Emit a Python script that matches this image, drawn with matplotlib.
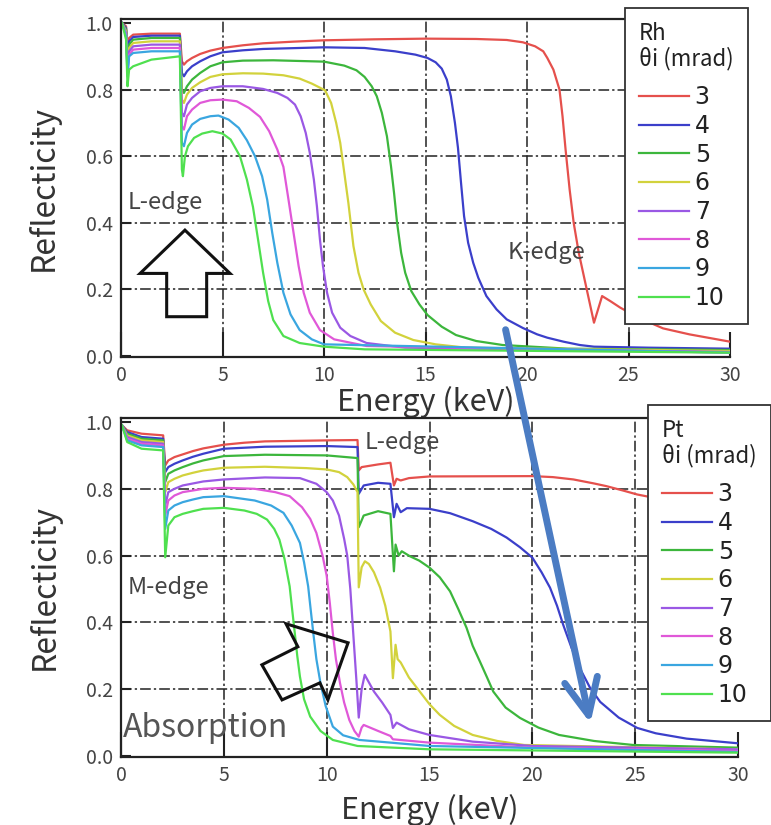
import matplotlib
matplotlib.use("Agg")
import matplotlib.pyplot as plt
from matplotlib.patches import Polygon, FancyArrowPatch

plt.rcParams['font.family'] = ['Noto Sans CJK JP', 'DejaVu Sans']

# incidence angles (mrad) and line colours
angles = ['3', '4', '5', '6', '7', '8', '9', '10']
colors = ['#e5504c', '#3b3fca', '#3cb63c', '#d2d23c',
          '#9a58e4', '#e058d8', '#3aa6e0', '#4fe04f']

# ---- Rh mirror: energy (keV) / reflectivity ----
rh_e3 = [0.05, 0.25, 0.32, 0.4, 0.6, 1.5, 2.9, 3.0, 3.1, 3.25, 3.5, 3.9, 4.4, 5.0, 6.0, 7.0, 8.5,
         10.0, 12.5, 15.0, 17.5, 19.0, 19.8, 20.4, 20.8, 21.0, 21.3, 21.6, 21.75, 21.9, 22.1, 22.3,
         22.55, 22.8, 23.05, 23.3, 23.7, 24.1, 24.6, 25.5, 26.7, 28.0, 30.0]
rh_r3 = [1.0, 0.99, 0.93, 0.955, 0.965, 0.968, 0.968, 0.885, 0.875, 0.885, 0.895, 0.907, 0.917,
         0.925, 0.933, 0.939, 0.944, 0.948, 0.951, 0.953, 0.952, 0.949, 0.942, 0.93, 0.915, 0.895,
         0.86, 0.80, 0.72, 0.62, 0.50, 0.40, 0.31, 0.24, 0.17, 0.10, 0.18, 0.165, 0.145, 0.115,
         0.083, 0.065, 0.043]

rh_e4 = [0.05, 0.25, 0.32, 0.4, 0.6, 1.5, 2.9, 3.0, 3.1, 3.25, 3.5, 3.9, 4.4, 5.0, 6.0, 7.0, 10.0,
         12.0, 13.5, 14.5, 15.1, 15.5, 15.8, 16.05, 16.25, 16.45, 16.6, 16.75, 16.9, 17.1, 17.35,
         17.6, 18.0, 18.5, 19.0, 19.8, 20.5, 21.0, 21.8, 22.6, 23.3, 26.0, 30.0]
rh_r4 = [1.0, 0.985, 0.91, 0.945, 0.958, 0.962, 0.962, 0.85, 0.84, 0.855, 0.87, 0.885, 0.90, 0.912,
         0.918, 0.922, 0.927, 0.925, 0.915, 0.905, 0.895, 0.882, 0.863, 0.83, 0.78, 0.70, 0.625,
         0.52, 0.42, 0.34, 0.28, 0.235, 0.18, 0.14, 0.11, 0.084, 0.065, 0.055, 0.043, 0.033, 0.028,
         0.025, 0.022]

rh_e5 = [0.05, 0.25, 0.32, 0.4, 0.6, 1.5, 2.9, 3.0, 3.1, 3.25, 3.5, 3.9, 4.4, 5.0, 6.0, 7.5, 10.0,
         11.0, 11.6, 12.0, 12.35, 12.6, 12.85, 13.1, 13.3, 13.45, 13.6, 13.8, 14.0, 14.3, 14.7,
         15.1, 15.8, 16.5, 17.5, 18.8, 22.0, 30.0]
rh_r5 = [1.0, 0.98, 0.89, 0.935, 0.95, 0.955, 0.955, 0.80, 0.79, 0.81, 0.83, 0.85, 0.87, 0.882,
         0.887, 0.888, 0.884, 0.872, 0.858, 0.838, 0.81, 0.78, 0.73, 0.66, 0.57, 0.49, 0.40, 0.31,
         0.25, 0.195, 0.155, 0.123, 0.088, 0.063, 0.045, 0.033, 0.022, 0.018]

rh_e6 = [0.05, 0.25, 0.32, 0.4, 0.6, 1.5, 2.9, 3.0, 3.1, 3.25, 3.5, 3.9, 4.4, 5.0, 6.0, 7.0, 8.0,
         8.8, 9.4, 10.05, 10.35, 10.6, 10.8, 11.0, 11.2, 11.45, 11.7, 11.95, 12.3, 12.8, 13.5, 14.4,
         15.5, 17.0, 30.0]
rh_r6 = [1.0, 0.975, 0.87, 0.925, 0.94, 0.945, 0.945, 0.77, 0.76, 0.785, 0.805, 0.822, 0.838,
         0.846, 0.849, 0.848, 0.843, 0.833, 0.818, 0.798, 0.76, 0.70, 0.64, 0.55, 0.46, 0.33, 0.25,
         0.20, 0.155, 0.105, 0.07, 0.048, 0.035, 0.025, 0.015]

rh_e7 = [0.05, 0.25, 0.32, 0.4, 0.6, 1.5, 2.9, 3.0, 3.1, 3.25, 3.5, 3.9, 4.4, 5.0, 6.0, 7.0, 7.7,
         8.2, 8.57, 8.85, 9.1, 9.3, 9.5, 9.65, 9.8, 9.95, 10.15, 10.4, 10.8, 11.3, 12.1, 14.0, 30.0]
rh_r7 = [1.0, 0.97, 0.86, 0.915, 0.93, 0.935, 0.935, 0.73, 0.72, 0.755, 0.775, 0.795, 0.805, 0.81,
         0.81, 0.802, 0.79, 0.775, 0.755, 0.72, 0.67, 0.61, 0.53, 0.45, 0.35, 0.27, 0.19, 0.13,
         0.085, 0.06, 0.039, 0.025, 0.012]

rh_e8 = [0.05, 0.25, 0.32, 0.4, 0.6, 1.5, 2.9, 3.0, 3.1, 3.25, 3.5, 3.9, 4.4, 5.0, 5.7, 6.3, 6.85,
         7.3, 7.7, 8.0, 8.25, 8.5, 8.75, 9.0, 9.3, 9.8, 10.5, 12.1, 30.0]
rh_r8 = [1.0, 0.965, 0.85, 0.905, 0.92, 0.925, 0.925, 0.69, 0.68, 0.72, 0.74, 0.76, 0.768, 0.77,
         0.765, 0.745, 0.718, 0.675, 0.62, 0.568, 0.47, 0.37, 0.27, 0.19, 0.13, 0.078, 0.05, 0.03,
         0.01]

rh_e9 = [0.05, 0.25, 0.32, 0.4, 0.6, 1.5, 2.9, 3.0, 3.1, 3.25, 3.5, 3.9, 4.4, 4.8, 5.3, 5.8, 6.2,
         6.6, 6.95, 7.2, 7.45, 7.7, 8.0, 8.35, 8.8, 9.4, 10.0, 30.0]
rh_r9 = [1.0, 0.96, 0.84, 0.90, 0.91, 0.915, 0.915, 0.64, 0.63, 0.67, 0.695, 0.712, 0.72, 0.722,
         0.71, 0.685, 0.648, 0.60, 0.54, 0.47, 0.37, 0.28, 0.19, 0.125, 0.078, 0.05, 0.035, 0.01]

rh_e10 = [0.05, 0.25, 0.32, 0.4, 0.6, 1.5, 2.9, 3.0, 3.05, 3.15, 3.3, 3.6, 4.0, 4.5, 5.0, 5.4,
          5.86, 6.2, 6.5, 6.75, 7.0, 7.25, 7.5, 8.0, 8.8, 10.0, 12.0, 30.0]
rh_r10 = [1.0, 0.95, 0.81, 0.86, 0.87, 0.89, 0.90, 0.56, 0.54, 0.60, 0.63, 0.655, 0.668, 0.675,
          0.668, 0.65, 0.60, 0.53, 0.448, 0.35, 0.25, 0.165, 0.108, 0.06, 0.039, 0.028, 0.02, 0.01]

# ---- Pt mirror: energy (keV) / reflectivity ----
pt_e3 = [0.05, 0.3, 1.0, 2.05, 2.15, 2.3, 2.6, 3.0, 3.5, 4.0, 5.0, 6.0, 7.0, 10.0, 11.5, 11.56,
         11.7, 12.5, 13.1, 13.27, 13.4, 13.6, 14.0, 15.0, 20.0, 21.0, 22.0, 23.0, 23.6, 24.4, 25.1,
         27.0, 30.0]
pt_r3 = [0.99, 0.975, 0.965, 0.96, 0.87, 0.885, 0.895, 0.903, 0.913, 0.921, 0.932, 0.938, 0.942,
         0.945, 0.946, 0.855, 0.865, 0.873, 0.878, 0.81, 0.83, 0.825, 0.832, 0.837, 0.838, 0.835,
         0.828, 0.816, 0.808, 0.795, 0.783, 0.76, 0.72]

pt_e4 = [0.05, 0.3, 1.0, 2.05, 2.15, 2.3, 2.6, 3.0, 3.5, 4.0, 5.0, 7.0, 10.0, 11.5, 11.56, 11.8,
         12.5, 13.1, 13.27, 13.4, 13.6, 13.9, 15.0, 16.0, 17.1, 18.0, 18.75, 19.4, 20.0, 20.45,
         20.86, 21.2, 21.5, 21.9, 22.3, 22.8, 23.3, 24.2, 25.1, 26.0, 27.5, 30.0]
pt_r4 = [0.99, 0.97, 0.955, 0.95, 0.85, 0.865, 0.875, 0.885, 0.896, 0.905, 0.92, 0.926, 0.928,
         0.925, 0.785, 0.81, 0.818, 0.815, 0.715, 0.755, 0.73, 0.742, 0.74, 0.727, 0.703, 0.68,
         0.654, 0.625, 0.594, 0.55, 0.504, 0.45, 0.393, 0.325, 0.264, 0.205, 0.162, 0.115, 0.084,
         0.068, 0.052, 0.038]

pt_e5 = [0.05, 0.3, 1.0, 2.05, 2.15, 2.3, 2.6, 3.0, 3.5, 4.0, 5.0, 7.0, 10.0, 11.5, 11.56, 11.8,
         12.5, 13.1, 13.27, 13.35, 13.5, 13.65, 14.05, 14.5, 15.0, 15.5, 16.0, 16.4, 16.8, 17.1,
         17.45, 17.8, 18.1, 18.7, 19.4, 20.3, 21.3, 23.0, 24.9, 30.0]
pt_r5 = [0.99, 0.965, 0.95, 0.945, 0.82, 0.845, 0.855, 0.865, 0.876, 0.885, 0.898, 0.902, 0.90,
         0.892, 0.685, 0.72, 0.733, 0.725, 0.553, 0.633, 0.60, 0.613, 0.598, 0.585, 0.564, 0.535,
         0.493, 0.44, 0.384, 0.33, 0.283, 0.235, 0.193, 0.145, 0.114, 0.085, 0.063, 0.045, 0.033,
         0.025]

pt_e6 = [0.05, 0.3, 1.0, 2.05, 2.15, 2.3, 2.6, 3.0, 3.5, 4.0, 5.0, 7.0, 9.0, 10.0, 10.6, 11.0,
         11.3, 11.5, 11.56, 11.7, 11.86, 12.05, 12.3, 12.6, 12.85, 13.1, 13.22, 13.35, 13.45, 13.6,
         14.0, 14.4, 15.0, 15.5, 16.2, 17.1, 18.3, 19.6, 30.0]
pt_r6 = [0.99, 0.96, 0.945, 0.94, 0.79, 0.82, 0.83, 0.84, 0.848, 0.855, 0.863, 0.866, 0.862,
         0.858, 0.85, 0.835, 0.813, 0.79, 0.505, 0.565, 0.583, 0.575, 0.55, 0.504, 0.45, 0.373,
         0.233, 0.333, 0.29, 0.28, 0.235, 0.203, 0.155, 0.123, 0.09, 0.063, 0.045, 0.033, 0.02]

pt_e7 = [0.05, 0.3, 1.0, 2.05, 2.15, 2.3, 2.6, 3.0, 3.5, 4.0, 5.0, 7.0, 8.7, 9.5, 10.0, 10.3,
         10.6, 10.85, 11.0, 11.15, 11.3, 11.45, 11.56, 11.7, 11.85, 12.3, 12.7, 13.1, 13.22, 13.4,
         14.0, 15.0, 17.1, 20.0, 30.0]
pt_r7 = [0.99, 0.955, 0.94, 0.935, 0.75, 0.79, 0.80, 0.81, 0.816, 0.822, 0.828, 0.834, 0.832,
         0.815, 0.79, 0.765, 0.72, 0.65, 0.60, 0.50, 0.36, 0.223, 0.115, 0.20, 0.243, 0.193, 0.16,
         0.123, 0.084, 0.10, 0.08, 0.063, 0.043, 0.03, 0.02]

pt_e8 = [0.05, 0.3, 1.0, 2.05, 2.15, 2.3, 2.6, 3.0, 3.5, 4.0, 5.0, 6.5, 7.5, 8.2, 8.8, 9.2, 9.5,
         9.8, 10.0, 10.15, 10.3, 10.45, 10.65, 10.85, 11.1, 11.35, 11.56, 11.7, 11.8, 12.5, 13.1,
         13.22, 15.0, 20.0, 30.0]
pt_r8 = [0.99, 0.95, 0.935, 0.93, 0.72, 0.765, 0.78, 0.79, 0.795, 0.80, 0.803, 0.80, 0.79, 0.778,
         0.745, 0.71, 0.668, 0.60, 0.54, 0.46, 0.368, 0.29, 0.218, 0.16, 0.108, 0.075, 0.058,
         0.085, 0.093, 0.075, 0.06, 0.05, 0.04, 0.025, 0.015]

pt_e9 = [0.05, 0.3, 1.0, 2.05, 2.15, 2.3, 2.6, 3.0, 3.5, 4.0, 5.0, 6.5, 7.3, 7.9, 8.3, 8.7, 8.9,
         9.1, 9.22, 9.35, 9.5, 9.7, 9.95, 10.3, 10.8, 11.6, 15.0, 30.0]
pt_r9 = [0.99, 0.945, 0.93, 0.925, 0.68, 0.735, 0.75, 0.76, 0.768, 0.775, 0.778, 0.765, 0.75,
         0.728, 0.69, 0.638, 0.58, 0.508, 0.44, 0.368, 0.29, 0.218, 0.15, 0.088, 0.062, 0.048,
         0.03, 0.012]

pt_e10 = [0.05, 0.3, 1.0, 2.05, 2.15, 2.3, 2.6, 3.0, 3.5, 4.0, 5.0, 6.0, 6.6, 7.1, 7.45, 7.7,
          7.95, 8.2, 8.32, 8.45, 8.57, 8.7, 8.9, 9.2, 9.7, 10.3, 11.5, 15.0, 30.0]
pt_r10 = [0.99, 0.94, 0.92, 0.915, 0.595, 0.69, 0.715, 0.725, 0.733, 0.74, 0.743, 0.735, 0.725,
          0.708, 0.68, 0.648, 0.59, 0.508, 0.44, 0.368, 0.30, 0.238, 0.17, 0.118, 0.075, 0.048,
          0.03, 0.02, 0.01]

rh_e = [rh_e3, rh_e4, rh_e5, rh_e6, rh_e7, rh_e8, rh_e9, rh_e10]
rh_r = [rh_r3, rh_r4, rh_r5, rh_r6, rh_r7, rh_r8, rh_r9, rh_r10]
pt_e = [pt_e3, pt_e4, pt_e5, pt_e6, pt_e7, pt_e8, pt_e9, pt_e10]
pt_r = [pt_r3, pt_r4, pt_r5, pt_r6, pt_r7, pt_r8, pt_r9, pt_r10]

W, H = 771, 825
fig = plt.figure(figsize=(W / 100, H / 100), dpi=100)
ax1 = fig.add_axes([121 / W, 1 - 357 / H, 609 / W, 338 / H])
ax2 = fig.add_axes([121 / W, 1 - 757 / H, 617 / W, 339 / H])

grid_kw = dict(color='#222222', lw=1.1, dashes=(7, 2, 1.5, 2), zorder=1)


def setup(ax, ylab_x):
    ax.set_xlim(0, 30)
    ax.set_ylim(-0.003, 1.012)
    ax.set_xticks([0, 5, 10, 15, 20, 25, 30])
    ax.set_yticks([0, 0.2, 0.4, 0.6, 0.8, 1.0])
    ax.set_yticklabels(['0.0', '0.2', '0.4', '0.6', '0.8', '1.0'])
    ax.tick_params(axis='both', direction='in', width=1.5, color='#222222',
                   labelsize=14, labelcolor='#444444')
    ax.tick_params(axis='y', length=7, pad=6)
    ax.tick_params(axis='x', length=18, pad=6)
    ax.spines['right'].set_visible(False)
    for s in ['left', 'bottom', 'top']:
        ax.spines[s].set_linewidth(1.6)
        ax.spines[s].set_color('#222222')
    for x in [5, 10, 15, 20, 25]:
        ax.axvline(x, **grid_kw)
    for y in [0.2, 0.4, 0.6, 0.8]:
        ax.axhline(y, **grid_kw)
    ax.set_ylabel('Reflecticity', fontsize=23, color='#333333')
    ax.yaxis.set_label_coords(ylab_x, 0.5)
    ax.set_xlabel('Energy (keV)', fontsize=22, color='#333333')


setup(ax1, -0.1)
setup(ax2, -0.098)
ax1.xaxis.set_label_coords(0.5, -0.085)
ax2.xaxis.set_label_coords(0.5, -0.11)

for ax, es, rs in [(ax1, rh_e, rh_r), (ax2, pt_e, pt_r)]:
    for e, r, c, a in zip(es, rs, colors, angles):
        ax.plot(e, r, color=c, lw=1.6, label=a, zorder=2)

leg_kw = dict(loc='upper left', bbox_transform=fig.transFigure, frameon=True, fancybox=False,
              edgecolor='#333333', framealpha=1, prop={'family': 'DejaVu Sans', 'size': 17},
              title_fontsize=16, alignment='left', handlelength=2.1, labelspacing=0.2,
              borderpad=0.6, handletextpad=0.25, borderaxespad=0)
leg1 = ax1.legend(title='Rh\nθi (mrad)', bbox_to_anchor=(625 / W, 1 - 8 / H), **leg_kw)
leg2 = ax2.legend(title='Pt\nθi (mrad)', bbox_to_anchor=(648 / W, 1 - 405 / H), **leg_kw)
for leg in (leg1, leg2):
    leg.get_frame().set_linewidth(1.3)
    leg.set_zorder(5)
    leg.get_title().set_color('#222222')
    leg.get_title().set_linespacing(1.1)
    # a little more room between the title block and the entries
    leg._legend_box.sep = 0.2 * 17 + 7
    for t in leg.get_texts():
        t.set_color('#222222')

# edge labels
txt_kw = dict(fontsize=17, color='#444444', va='center', zorder=4)
ax1.text(0.35, 0.46, 'L-edge', **txt_kw)
ax1.text(19.06, 0.31, 'K-edge', **txt_kw)
ax2.text(11.86, 0.94, 'L-edge', **txt_kw)
ax2.text(0.34, 0.505, 'M-edge', **txt_kw)
ax2.text(0.1, 0.085, 'Absorption', fontsize=23, color='#555555', va='center', zorder=4)

# hollow block arrows
up_arrow = [(3.15, 0.378), (5.37, 0.248), (4.22, 0.248), (4.22, 0.118),
            (2.25, 0.118), (2.25, 0.248), (0.94, 0.248)]
ax1.add_patch(Polygon(up_arrow, closed=True, fill=False, ec='#111111', lw=2.2, zorder=4))
slant_arrow = [(11.04, 0.339), (8.02, 0.396), (8.60, 0.327), (6.85, 0.273),
               (7.83, 0.168), (9.67, 0.219), (10.06, 0.168)]
ax2.add_patch(Polygon(slant_arrow, closed=True, fill=False, ec='#111111', lw=2.2, zorder=4))

# long arrow linking the two panels
fig.add_artist(FancyArrowPatch((505 / W, 1 - 327 / H), (591 / W, 1 - 726 / H),
                               transform=fig.transFigure,
                               arrowstyle='->,head_length=1.3,head_width=0.6',
                               mutation_scale=20, lw=5, color='#4b7cc3', zorder=10))

fig.savefig('out.png', dpi=100)
